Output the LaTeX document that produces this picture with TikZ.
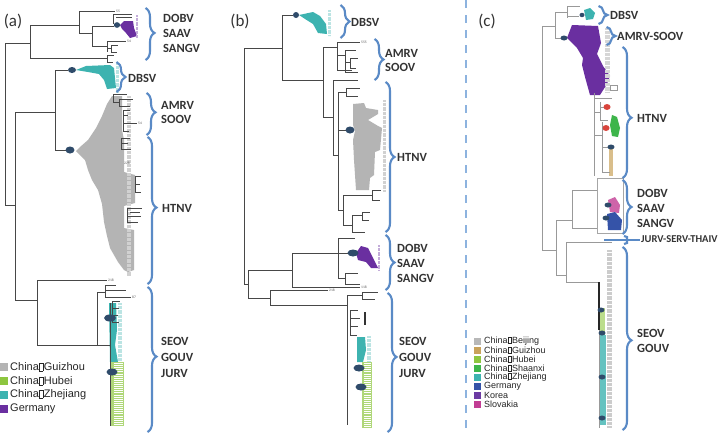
\documentclass[tikz,border=0pt]{standalone}
\usepackage{fontspec}
\setmainfont{Carlito}
\newfontfamily\legfont{Liberation Sans}
\usetikzlibrary{decorations.pathreplacing}
\definecolor{brkc}{HTML}{5A8AC6}
\definecolor{dashc}{HTML}{8DB3DF}
\definecolor{labc}{HTML}{333333}
\definecolor{ellc}{HTML}{2F4B6A}
\definecolor{gz}{HTML}{B4B4B4}
\definecolor{hb}{HTML}{8DC63F}
\definecolor{zj}{HTML}{3DB3B0}
\definecolor{de}{HTML}{6A2FA0}
\definecolor{bj}{HTML}{B8B8B8}
\definecolor{gzc}{HTML}{C9A25A}
\definecolor{sx}{HTML}{3DB54A}
\definecolor{dec}{HTML}{3553A8}
\definecolor{kr}{HTML}{6C3BA3}
\definecolor{sk}{HTML}{C23D94}
\definecolor{redn}{HTML}{D9443C}
\newcommand\missbox{\kern0.5pt{\fboxsep=0pt\fboxrule=0.35pt\fbox{\rule{0pt}{0.68em}\rule{0.3em}{0pt}}}\kern0.5pt}
\newcommand\cladebr[4]{\draw[brk, decoration={brace, amplitude=9pt, aspect=#4}] (#1-4.5,#2) -- (#1-4.5,#3);}
\begin{document}
\begin{tikzpicture}[x=1pt,y=-1pt,
 tl/.style={draw=black!72, line width=0.7pt},
 tlc/.style={draw=black!40, line width=0.55pt},
 brk/.style={draw=brkc, line width=2.1pt, decorate},
 lab/.style={font=\bfseries\fontsize{12.5}{13}\selectfont, text=labc, anchor=west, inner sep=0pt},
 labs/.style={font=\bfseries\fontsize{10.5}{11}\selectfont, text=labc, anchor=west, inner sep=0pt},
 plab/.style={font=\fontsize{17}{18}\selectfont, text=labc, inner sep=0pt},
 tip/.style={font=\fontsize{3.6}{4}\selectfont, text=black!65, inner sep=0pt, anchor=west},
 tipcol/.style={dash pattern=on 0.6pt off 0.7pt},
 leg/.style={font=\legfont\fontsize{11}{12}\selectfont, text=black!85, anchor=west, inner sep=0pt},
 legc/.style={font=\legfont\fontsize{9}{10}\selectfont, text=black!85, anchor=west, inner sep=0pt}]
\useasboundingbox (0,0) rectangle (722,434);
\fill[white] (0,0) rectangle (722,434);

% ================= PANEL (a) =================
\node[plab] (alab) at (13,21) {(a)};
\fill[gz] (112,96)--(122,96)--(122,130)--(124,140)--(124,172)--(135,175)--(135,203)--(124,206)--(124,228)--(134,230)--(134,270)--(128,272)--(124,270)--(118,262)--(110,248)--(107,236)--(104,222)--(102,204)--(98,190)--(92,180)--(88,170)--(85,160)--(79,154)--(76,151)--(80,147)--(88,140)--(96,128)--(102,116)--(107,104)--cycle;
\draw[black!18, line width=4pt, tipcol] (129,96)--(129,276);
\fill[zj] (76,70)--(86,66)--(110,65)--(114,68)--(116,88)--(107,89)--(104,80)--(99,74)--(88,72)--cycle;
\draw[zj!35, line width=3pt, tipcol] (117,63)--(117,92);
\fill[de] (120,25)--(124,21)--(133,21)--(134,28)--(137,36)--(130,38)--(126,33)--(122,29)--cycle;
\draw[de!40, line width=2.5pt, tipcol] (137,15)--(137,38);
\fill[zj] (109,303)--(116,303)--(117,330)--(115,345)--(118,362)--(110,362)--cycle;
\draw[zj!35, line width=4pt, tipcol] (120,303)--(120,362);
\fill[hb!70] (111,362) rectangle (124,426);
\draw[white, line width=9pt, dash pattern=on 0.5pt off 1.6pt] (118,363)--(118,425);
\draw[tl] (5,43)--(5,205) (5,43)--(30,43) (30,25)--(30,58) (30,25)--(79,25) (79,11)--(79,33) (79,11)--(115,11)
 (79,33)--(92,33) (92,26)--(92,46) (92,26)--(114,26) (113,14)--(113,24) (113,14)--(132,14) (116,17)--(132,17)
 (92,46)--(107,46) (107,41)--(107,52) (107,41)--(126,41) (107,48)--(111,48) (111,45)--(111,52) (111,45)--(118,45) (111,52)--(117,52)
 (30,58)--(107,58) (107,55)--(107,62) (107,55)--(114,55) (107,62)--(113,62);
\draw[tl] (5,205)--(15,205) (15,112)--(15,300) (15,112)--(55,112) (55,70)--(55,150) (55,70)--(68,70) (55,150)--(66,150);
\draw[tl] (113,94)--(113,102) (113,94)--(127,94) (113,102)--(119,102) (119,99)--(119,106) (119,99)--(133,99) (119,106)--(130,106)
 (123,110)--(123,131) (123,110)--(130,110) (123,115)--(128,115) (123,123)--(137,123) (123,131)--(129,131)
 (121,138)--(121,149) (121,138)--(130,138) (121,143)--(128,143) (121,149)--(131,149)
 (135,176)--(135,192) (135,176)--(141,176) (135,184)--(140,184) (135,192)--(141,192)
 (127,208)--(127,222) (127,208)--(142,208) (130,212)--(140,212) (127,216)--(141,216) (127,222)--(138,222);
\draw[tl] (15,300)--(37,300) (37,280)--(37,345) (37,280)--(107,280) (37,345)--(110,345) (97,292)--(97,345)
 (97,292)--(105,292) (105,285)--(105,297) (105,285)--(116,285) (105,290)--(126,290) (105,297)--(131,297)
 (110,303)--(110,426) (112,301)--(112,322) (112,301)--(120,301) (112,308)--(119,308) (112,315)--(118,315) (112,322)--(119,322);
\fill[ellc] (117,25) ellipse (3.2 and 2.8);
\fill[ellc] (72,70) ellipse (4 and 3);
\fill[ellc] (70,150) ellipse (4.5 and 3.5);
\fill[ellc] (110,318) ellipse (6 and 3.5);
\fill[ellc] (112,372) ellipse (5.5 and 3.5);
\node[tip] (t1) at (116,11) {55};
\node[tip] (t2) at (138,123) {54};
\node[tip] (t3) at (108,280) {218};
\node[tip] (t4) at (132,297) {87};
\node[tip] (t5) at (124,163) {228};
\node[tip] (t6) at (127,41) {54};
\cladebr{150}{8}{60}{0.48}
\cladebr{121}{62}{92}{0.5}
\cladebr{151}{93}{135}{0.46}
\cladebr{152}{137}{284}{0.48}
\cladebr{152}{287}{432}{0.48}
\node[lab] (a1) at (163,18) {DOBV};
\node[lab] (a2) at (163,33) {SAAV};
\node[lab] (a3) at (163,48) {SANGV};
\node[lab] (a4) at (128,78) {DBSV};
\node[lab] (a5) at (161,105) {AMRV};
\node[lab] (a6) at (161,119) {SOOV};
\node[lab] (a7) at (162,208) {HTNV};
\node[lab] (a8) at (161,341) {SEOV};
\node[lab] (a9) at (161,357) {GOUV};
\node[lab] (a10) at (161,373) {JURV};
\fill[gz] (0,363) rectangle (8,371);
\fill[hb] (0,377) rectangle (8,385);
\fill[zj] (0,391) rectangle (8,399);
\fill[de] (0,405) rectangle (8,413);
\node[leg] (la1) at (10,367) {China\missbox Guizhou};
\node[leg] (la2) at (10,381) {China\missbox Hubei};
\node[leg] (la3) at (10,395) {China\missbox Zhejiang};
\node[leg] (la4) at (10,409) {Germany};

% ================= PANEL (b) =================
\node[plab] (blab) at (240,21) {(b)};
\fill[gz] (353,104)--(364,103)--(366,108)--(378,110)--(378,114)--(368,120)--(378,126)--(382,128)--(380,150)--(375,152)--(374,175)--(370,178)--(369,190)--(356,190)--(354,160)--(353,140)--(355,131)--(353,125)--cycle;
\draw[black!18, line width=3pt, tipcol] (384,100)--(384,192);
\fill[zj] (299,15)--(313,12)--(320,16)--(326,24)--(327,34)--(318,33)--(313,24)--(305,19)--cycle;
\draw[zj!35, line width=3pt, tipcol] (329,10)--(329,36);
\fill[de] (356,253)--(361,246)--(368,248)--(372,256)--(378,268)--(371,268)--(366,262)--(358,260)--cycle;
\draw[de!40, line width=2.5pt, tipcol] (379,245)--(379,270);
\fill[zj] (357,337)--(365,337)--(366,350)--(363,362)--(357,362)--cycle;
\draw[zj!35, line width=4pt, tipcol] (369,336)--(369,362);
\fill[hb!70] (362,362) rectangle (372,428);
\draw[white, line width=7pt, dash pattern=on 0.5pt off 1.6pt] (367,363)--(367,427);
\draw[tl] (244,48)--(244,284) (244,48)--(282,48) (282,15)--(282,80) (282,15)--(293,15) (282,80)--(323,80) (323,47)--(323,117)
 (323,47)--(337,47) (337,42)--(337,70) (337,42)--(360,42) (337,55)--(345,55) (345,50)--(345,72) (345,50)--(356,50)
 (345,62)--(350,62) (350,58)--(350,68) (350,58)--(358,58) (350,68)--(356,68) (345,72)--(358,72) (337,70)--(352,70)
 (323,117)--(333,117) (333,80)--(333,155) (333,80)--(358,80) (333,155)--(338,155) (338,92)--(338,210)
 (338,92)--(346,92) (346,88)--(346,96) (346,88)--(360,88) (346,96)--(358,96) (338,130)--(346,130)
 (338,210)--(343,210) (343,195)--(343,225) (343,195)--(372,195) (372,190)--(372,200) (372,190)--(381,190) (372,200)--(380,200)
 (343,225)--(352,225) (352,215)--(352,232) (352,215)--(362,215) (362,212)--(362,220) (362,212)--(370,212) (362,220)--(369,220) (352,232)--(365,232);
\draw[tl] (244,284)--(248,284) (248,270)--(248,298) (248,270)--(292,270) (292,253)--(292,287) (292,253)--(338,253)
 (338,238)--(338,278) (338,238)--(355,238) (338,253)--(349,253) (338,278)--(345,278) (345,273)--(345,284) (345,273)--(358,273) (345,284)--(360,284)
 (292,287)--(360,287) (248,298)--(270,298) (270,290)--(270,305) (270,290)--(328,290) (270,305)--(347,305)
 (347,295)--(347,425) (347,295)--(362,295) (362,292)--(362,299) (362,292)--(378,292) (362,299)--(375,299)
 (350,310)--(350,335) (350,310)--(358,310) (350,318)--(360,318) (350,326)--(358,326) (350,335)--(357,335);
\draw[black!80, line width=1.5pt] (365,312)--(365,325);
\fill[ellc] (296,15) ellipse (3 and 3);
\fill[ellc] (350,130) ellipse (4.5 and 3.5);
\fill[ellc] (353,253) ellipse (5.5 and 3.5);
\fill[ellc] (359,368) ellipse (5.5 and 3.5);
\fill[ellc] (361,387) ellipse (5.5 and 3.5);
\node[tip] (t7) at (329,290) {218};
\node[tip] (t8) at (361,287) {118};
\node[tip] (t9) at (361,42) {555};
\cladebr{345}{5}{38}{0.5}
\cladebr{379}{39}{80}{0.5}
\cladebr{390}{82}{232}{0.5}
\cladebr{390}{235}{290}{0.5}
\cladebr{392}{293}{432}{0.46}
\node[lab] (b1) at (351,22) {DBSV};
\node[lab] (b2) at (385,53) {AMRV};
\node[lab] (b3) at (385,67) {SOOV};
\node[lab] (b4) at (397,157) {HTNV};
\node[lab] (b5) at (397,248) {DOBV};
\node[lab] (b6) at (397,263) {SAAV};
\node[lab] (b7) at (397,278) {SANGV};
\node[lab] (b8) at (399,341) {SEOV};
\node[lab] (b9) at (399,357) {GOUV};
\node[lab] (b10) at (399,373) {JURV};

\draw[dashc, line width=2pt, dash pattern=on 8pt off 7pt] (466,0)--(466,434);

% ================= PANEL (c) =================
\node[plab] (clab) at (487,21) {(c)};
\fill[de] (567,38)--(572,25)--(598,26)--(601,43)--(597,54)--(603,66)--(610,76)--(607,84)--(600,95)--(590,95)--(585,77)--(582,65)--(583,58)--(577,48)--cycle;
\draw[black!16, line width=5pt, tipcol] (607,28)--(607,92);
\fill[zj] (584,10)--(590,8)--(595,13)--(593,19)--(586,20)--cycle;
\fill[sx] (612,115)--(617,117)--(620,128)--(618,137)--(612,136)--(610,125)--cycle;
\fill[gzc!70] (609,147) rectangle (613,176);
\fill[sk!80] (608,200)--(615,197)--(620,205)--(619,213)--(610,212)--cycle;
\fill[dec] (607,214)--(615,212)--(622,220)--(621,230)--(608,230)--cycle;
\fill[hb!60] (599,308) rectangle (605,335);
\fill[zj!80] (599,335) rectangle (606,425);
\draw[black!20, line width=5pt, tipcol] (609,250)--(609,428);
\draw[tlc] (542,26)--(542,250) (542,26)--(555,26) (555,12)--(555,38) (555,12)--(567,12) (567,6)--(567,18) (567,6)--(580,6) (567,16)--(579,16) (555,38)--(561,38)
 (594,93)--(594,176) (594,98)--(612,98) (594,112)--(600,112) (600,102)--(600,120) (600,107)--(604,107) (600,120)--(608,120)
 (594,135)--(602,135) (602,122)--(602,172) (602,128)--(603,128) (602,147)--(608,147) (602,172)--(610,172)
 (542,250)--(556,250) (556,220)--(556,275) (556,220)--(572,220) (572,190)--(572,228) (572,190)--(597,190) (572,228)--(597,228)
 (556,275)--(566,275) (566,242)--(566,282) (566,242)--(612,242) (566,282)--(599,282) (599,282)--(599,428);
\draw[black!35, line width=0.5pt] (597,178) rectangle (623,233);
\draw[black!40, line width=0.5pt] (610,85) rectangle (617,90);
\draw[black!85, line width=1.2pt] (599,282)--(599,330);
\fill[ellc] (582,15) ellipse (2.5 and 2.2);
\fill[ellc] (564,38) ellipse (3.5 and 2.5);
\fill[redn] (607,107) ellipse (3.5 and 3);
\fill[redn] (606,128) ellipse (3.5 and 3);
\fill[ellc] (611,147) ellipse (3.5 and 2.5);
\fill[ellc] (608,205) ellipse (3.5 and 2.5);
\fill[ellc] (606,218) ellipse (3.5 and 2.5);
\fill[ellc] (601,310) ellipse (3.5 and 2.5);
\fill[ellc] (602,333) ellipse (3.5 and 2.5);
\fill[ellc] (602,377) ellipse (3.5 and 2.5);
\fill[ellc] (602,418) ellipse (3.5 and 2.5);
\cladebr{603}{6}{24}{0.5}
\cladebr{611}{27}{45}{0.5}
\cladebr{627}{47}{178}{0.54}
\cladebr{627}{180}{234}{0.5}
\draw[brkc, line width=2.1pt] (604,240)--(640,240);
\draw[brkc, line width=2.1pt] (624,236)--(627,237)--(627,243)--(624,244);
\cladebr{627}{247}{430}{0.51}
\node[lab] (c1) at (610,15) {DBSV};
\node[lab] (c2) at (617,36) {AMRV-SOOV};
\node[lab] (c3) at (637,118) {HTNV};
\node[lab] (c4) at (637,193) {DOBV};
\node[lab] (c5) at (637,208) {SAAV};
\node[lab] (c6) at (637,223) {SANGV};
\node[labs] (c7) at (641,239) {JURV-SERV-THAIV};
\node[lab] (c8) at (637,333) {SEOV};
\node[lab] (c9) at (637,348) {GOUV};
\foreach \col/\txt [count=\i] in {bj/China\missbox Beijing, gzc/China\missbox Guizhou, hb/China\missbox Hubei, sx/China\missbox Shaanxi, zj/China\missbox Zhejiang, dec/Germany, kr/Korea, sk/Slovakia}{
  \fill[\col] (474,{332+9*\i-3}) rectangle (481,{332+9*\i+3.5});
  \node[legc] (lc\i) at (484,{332+9*\i}) {\txt};
}
\end{tikzpicture}
\end{document}
